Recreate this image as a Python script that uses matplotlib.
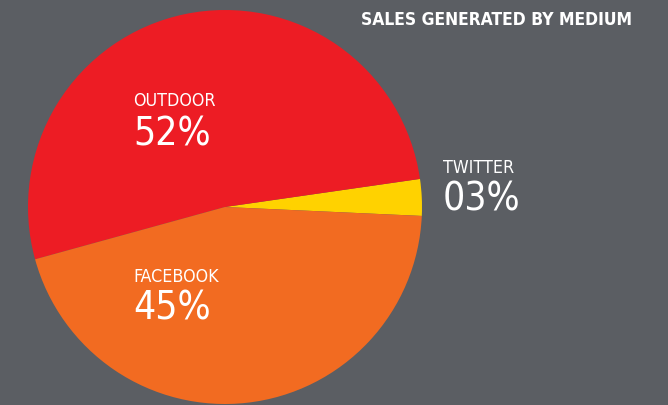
import matplotlib.pyplot as plt

# data
labels = ['TWITTER', 'OUTDOOR', 'FACEBOOK']
shares = [3, 52, 45]
colors = ['#ffd200', '#ed1c24', '#f26b21']
title = 'SALES GENERATED BY MEDIUM'

bg = '#5b5e63'
W, H = 668, 406

fig = plt.figure(figsize=(W / 100, H / 100), dpi=100, facecolor=bg)
ax = fig.add_axes([0, 0, 1, 1])
ax.set_facecolor(bg)

# pie in pixel coords (y up)
ax.pie(shares, colors=colors, startangle=-2.6, counterclock=True,
       center=(225, 198), radius=197, frame=True,
       wedgeprops=dict(linewidth=0))
ax.set_xlim(0, W)
ax.set_ylim(0, H)
ax.set_aspect('equal')
ax.axis('off')

font = 'DejaVu Sans'
small = dict(color='white', fontsize=12.8, family=font, stretch='condensed',
             ha='left', va='baseline')
big = dict(color='white', fontsize=28, family=font, stretch='condensed',
           ha='left', va='baseline')

# label positions (pixels, y up)
pos = {'OUTDOOR': (133, 300, 261),
       'TWITTER': (443, 233, 195),
       'FACEBOOK': (133, 124, 86)}
for lab, val in zip(labels, shares):
    x, y1, y2 = pos[lab]
    ax.text(x, y1, lab, **small)
    ax.text(x, y2, '%02d%%' % val, **big)

ax.text(632, 381, title, color='white', fontsize=12.5, fontweight='bold',
        family=font, stretch='condensed', ha='right', va='baseline')

fig.savefig('out.png', dpi=100, facecolor=bg)
